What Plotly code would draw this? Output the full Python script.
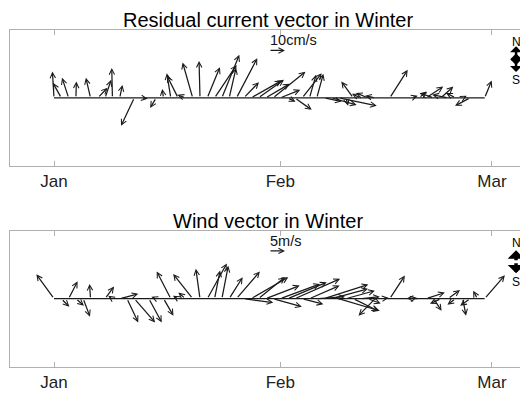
import plotly.graph_objects as go

# ---------------- data ----------------
days = list(range(60))              # day offset from 1 Jan (daily samples)
tick_vals = [0, 31, 60]
tick_text = ["Jan", "Feb", "Mar"]

# residual current (cm/s): east (u) and north (v) components
cur_u = [-1.0, -5.3, -4.1, 0.3, 0.6, -2.9, 6.1, 3.8, -0.4, 1.7,
         0.9, -8.3, 3.8, 0.4, -3.8, -0.8, -2.5, -6.9, -5.0, -6.3,
         -0.6, 7.9, 13.8, 10.9, 4.3, 13.0, 9.5, 19.1, 16.0, 15.0,
         20.3, 12.5, 5.0, 10.5, 12.2, 4.1, 4.1, 11.0, 15.8, 23.8,
         1.3, -7.5, -5.4, -7.5, -6.3, 1.9, 11.2, 0.3, 1.6, 3.8,
         4.8, 10.6, -8.5, 7.8, -10.0, -5.9, 2.5, -9.4, 0.6, 4.4]
cur_v = [16.4, 9.4, 12.5, 10.2, 1.2, 12.5, 6.3, 11.3, 18.6, 8.1,
         1.6, -17.5, -0.6, 0.3, -6.3, 5.6, 15.4, 13.8, 1.9, 22.1,
         23.1, 19.2, 20.6, 26.9, 18.8, 24.8, 9.8, 10.8, 11.3, 8.8,
         16.3, 5.0, -2.5, -7.5, 15.4, 14.4, 15.0, -2.3, -4.4, -5.0,
         -5.0, 10.2, 2.5, 3.1, 1.3, 0.6, 17.5, 0.2, -1.9, 1.3,
         3.9, 7.1, 2.9, 7.1, 1.9, 3.1, 1.3, -5.0, 0.2, 10.8]

# wind (m/s): east (u) and north (v) components
wind_u = [-5.5, 2.5, 2.8, 2.5, 2.1, -0.3, 0.5, 2.8, -1.3, 5.8,
          3.5, 6.5, -1.0, 4.0, -1.5, 3.1, -4.4, -1.6, -2.2, -6.1,
          -1.3, 6.1, 1.7, 2.0, 4.2, 7.3, 9.2, 11.6, 8.3, 10.6,
          9.0, 12.4, 12.2, 14.1, 6.6, 9.4, 8.8, 13.8, 11.4, 12.8,
          9.0, 7.8, 6.0, 4.0, -5.2, 1.9, 4.7, -0.8, 0.6, 1.6,
          -3.8, 5.8, 2.5, -3.4, 3.7, -2.5, 1.0, -3.1, -1.3, 6.3]
wind_v = [7.6, -2.5, 5.4, -2.2, -5.6, 4.6, 0.3, 3.8, 0.9, 1.5,
          -7.4, -7.4, 0.5, -7.4, 0.6, -5.3, 8.5, 0.9, 1.9, 7.7,
          9.3, 11.0, 8.8, 10.3, 6.7, 8.5, -1.2, 6.7, 6.7, 4.1,
          -2.5, 4.6, 5.1, 6.2, -1.7, 4.1, 0.6, 4.4, 3.1, -3.8,
          2.5, -3.8, 0.6, -1.5, -5.3, 0.3, 7.2, 0.3, 0.2, 0.3,
          0.1, 1.9, -3.8, -1.6, 2.7, -1.9, -5.3, -2.2, 2.5, 7.3]

cur_scale_val = 10     # cm/s reference arrow
wind_scale_val = 5     # m/s reference arrow

# ---------------- layout geometry ----------------
W, H = 520, 394
ML, MR, MT, MB = 10, 0, 30, 27
plot_w = W - ML - MR
plot_h = H - MT - MB
x_range = [-6.03, 63.84]
top_dom = [0.5973, 1.0]
bot_dom = [0.0, 0.4045]
cur_range = [-42.4, 42.4]
wind_range = [-21.3, 21.2]

px_per_day = plot_w / (x_range[1] - x_range[0])


def days_per_unit(dom, yr):
    px_per_unit = plot_h * (dom[1] - dom[0]) / (yr[1] - yr[0])
    return px_per_unit / px_per_day


k_cur = days_per_unit(top_dom, cur_range)
k_wind = days_per_unit(bot_dom, wind_range)

ARROW = "#1a1a1a"
FRAME = "#b0b0b0"
FONT = "Liberation Sans, Arial, sans-serif"
HEAD, HSIZE, HWIDTH = 5, 0.85, 1.25

fig = go.Figure()
for xa, ya in [("x", "y"), ("x2", "y2")]:
    fig.add_trace(go.Scatter(x=days, y=[0] * len(days), mode="lines",
                             line=dict(color=ARROW, width=1.3),
                             xaxis=xa, yaxis=ya, hoverinfo="skip"))

ann = []


def add_vec(t, y0, u, v, k, xr, yr, head=HEAD, size=HSIZE, width=HWIDTH, color=ARROW):
    ann.append(dict(x=t + u * k, y=y0 + v, ax=t, ay=y0,
                    xref=xr, yref=yr, axref=xr, ayref=yr, text="",
                    showarrow=True, arrowhead=head, arrowsize=size,
                    arrowwidth=width, arrowcolor=color, standoff=0))


for t, u, v in zip(days, cur_u, cur_v):
    add_vec(t, 0, u, v, k_cur, "x", "y")
for t, u, v in zip(days, wind_u, wind_v):
    add_vec(t, 0, u, v, k_wind, "x2", "y2")

# reference (scale) arrows and labels
sx = 29.45
add_vec(sx, 29.6, cur_scale_val, 0, k_cur, "x", "y")
ann.append(dict(x=sx - 0.1, y=36.3, xref="x", yref="y", text="10cm/s",
                showarrow=False, xanchor="left", yanchor="middle",
                font=dict(family=FONT, size=14.5, color="#111")))
add_vec(sx, 14.9, wind_scale_val, 0, k_wind, "x2", "y2")
ann.append(dict(x=sx - 0.1, y=17.9, xref="x2", yref="y2", text="5m/s",
                showarrow=False, xanchor="left", yanchor="middle",
                font=dict(family=FONT, size=14.5, color="#111")))

# compass roses (N / S)
cx = 63.3
for xr, yr, cy, half, yn, ys, hx, wd in [("x", "y", 24.2, 8.0, 35.2, 11.2, 2.0, 2.5),
                                         ("x2", "y2", 11.5, 3.6, 17.5, 5.3, 1.0, 3.5)]:
    for dx, dy in [(0, half), (0, -half), (-hx * 0.4, 0), (hx * 0.4, 0)]:
        ann.append(dict(x=cx + dx, y=cy + dy, ax=cx, ay=cy,
                        xref=xr, yref=yr, axref=xr, ayref=yr, text="",
                        showarrow=True, arrowhead=1, arrowsize=0.8,
                        arrowwidth=wd, arrowcolor="#000", standoff=0))
    ann.append(dict(x=cx, y=yn, xref=xr, yref=yr, text="N", showarrow=False,
                    font=dict(family=FONT, size=12, color="#000")))
    ann.append(dict(x=cx, y=ys, xref=xr, yref=yr, text="S", showarrow=False,
                    font=dict(family=FONT, size=12, color="#000")))


def paper_y(py):
    return (H - MB - py) / plot_h


ann.append(dict(x=(268 - ML) / plot_w, y=paper_y(20), xref="paper", yref="paper",
                text="Residual current vector in Winter", showarrow=False,
                xanchor="center", yanchor="middle",
                font=dict(family=FONT, size=20, color="#000")))
ann.append(dict(x=(268 - ML) / plot_w, y=paper_y(221), xref="paper", yref="paper",
                text="Wind vector in Winter", showarrow=False,
                xanchor="center", yanchor="middle",
                font=dict(family=FONT, size=20, color="#000")))

xaxis_common = dict(range=x_range, tickvals=tick_vals, ticktext=tick_text,
                    ticks="inside", ticklen=5, tickcolor=FRAME, showline=True,
                    linecolor=FRAME, linewidth=1, mirror="ticks", showgrid=False,
                    zeroline=False, tickfont=dict(family=FONT, size=17, color="#222"),
                    fixedrange=True)
yaxis_common = dict(showline=True, linecolor=FRAME, linewidth=1, mirror=False,
                    showgrid=False, zeroline=False, showticklabels=False,
                    ticks="", fixedrange=True)

fig.update_layout(
    width=W, height=H,
    margin=dict(l=ML, r=MR, t=MT, b=MB),
    paper_bgcolor="white", plot_bgcolor="white",
    showlegend=False,
    xaxis=dict(xaxis_common, anchor="y"),
    xaxis2=dict(xaxis_common, anchor="y2"),
    yaxis=dict(yaxis_common, domain=top_dom, range=cur_range),
    yaxis2=dict(yaxis_common, domain=bot_dom, range=wind_range),
    annotations=ann,
)

fig.write_html("out.html", config={"displayModeBar": False},
               post_script="document.body.style.margin='0px';document.body.style.overflow='hidden';")
